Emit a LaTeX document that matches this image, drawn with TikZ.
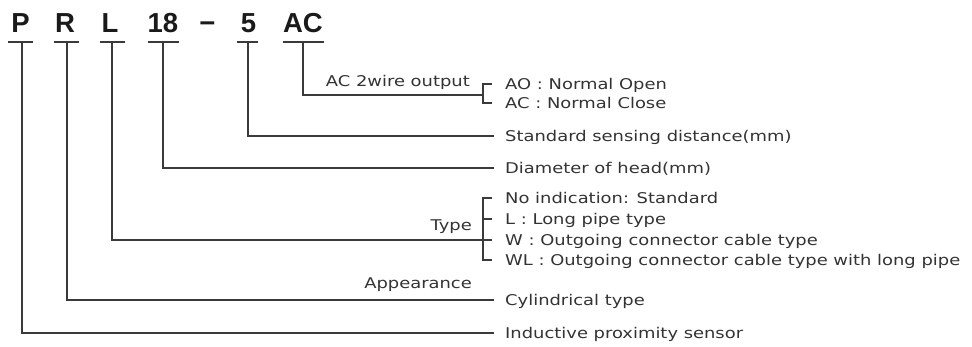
\documentclass[tikz,border=0pt]{standalone}
\usepackage{fontspec}
\setmainfont{Liberation Sans}
\newfontfamily\descfont[FakeStretch=1.21]{DejaVu Sans}
\definecolor{codecol}{HTML}{1A1A1A}
\definecolor{txtcol}{HTML}{333333}
\definecolor{lncol}{HTML}{3A3A3A}
\begin{document}
\begin{tikzpicture}[x=1pt,y=-1pt,
  code/.style={font=\fontsize{27.5}{27.5}\selectfont\bfseries, text=codecol, inner sep=0pt, anchor=base},
  desc/.style={font=\descfont\fontsize{14.8}{14.8}\selectfont, text=txtcol, inner ysep=0pt, inner xsep=11pt, text height=10.8pt, text depth=0pt, anchor=west},
  brtext/.style={desc, inner xsep=13pt},
  lab/.style={font=\descfont\fontsize{14.8}{14.8}\selectfont, text=txtcol, inner sep=0pt, anchor=base east},
  ln/.style={draw=lncol, line width=1.1pt}]
\useasboundingbox (0,0) rectangle (972,346);
% code letters
\node[code] (cP) at (20.5,32) {P};
\node[code] (cR) at (65,32) {R};
\node[code] (cL) at (110,32) {L};
\node[code] (c18) at (163,32) {18};
\node[code] (cD) at (207.5,32) {−};
\node[code] (c5) at (248.5,32) {5};
\node[code] (cAC) at (303,32) {AC};
% underlines
\draw[ln] (8,42) -- (33,42);
\draw[ln] (54,42) -- (79,42);
\draw[ln] (100,42) -- (125,42);
\draw[ln] (148,42) -- (179,42);
\draw[ln] (237,42) -- (258,42);
\draw[ln] (283,42) -- (324,42);
\coordinate (uP) at (22,42);
\coordinate (uR) at (67,42);
\coordinate (uL) at (112,42);
\coordinate (u18) at (163,42);
\coordinate (u5) at (248,42);
\coordinate (uAC) at (303,42);
% descriptions
\node[brtext] (tAO) at (492,84) {AO : Normal Open};
\node[brtext] (tACc) at (492,103) {AC : Normal Close};
\node[desc] (tStd) at (494,136) {Standard sensing distance(mm)};
\node[desc] (tDia) at (494,168) {Diameter of head(mm)};
\node[brtext] (tNo) at (492,198) {No indication: Standard};
\node[brtext] (tLo) at (492,219) {L : Long pipe type};
\node[brtext] (tW) at (492,240) {W : Outgoing connector cable type};
\node[brtext] (tWL) at (492,260) {WL : Outgoing connector cable type with long pipe};
\node[desc] (tCyl) at (494,300) {Cylindrical type};
\node[desc] (tInd) at (494,333) {Inductive proximity sensor};
% group labels
\node[lab] (lAC) at (470,86) {AC 2wire output};
\node[lab] (lType) at (472,230) {Type};
\node[lab] (lApp) at (472,288) {Appearance};
% brackets
\coordinate (bAC) at (483,95);
\draw[ln] (tAO.west) -- ++(-9,0) |- (tACc.west);
\draw[ln] (tNo.west) -- ++(-9,0) |- (tWL.west);
\draw[ln] (tLo.west) -- ++(-9,0);
% connectors
\draw[ln] (uAC) |- (bAC);
\draw[ln] (u5) |- (tStd.west);
\draw[ln] (u18) |- (tDia.west);
\draw[ln] (uL) |- (tW.west);
\draw[ln] (uR) |- (tCyl.west);
\draw[ln] (uP) |- (tInd.west);
\end{tikzpicture}
\end{document}
